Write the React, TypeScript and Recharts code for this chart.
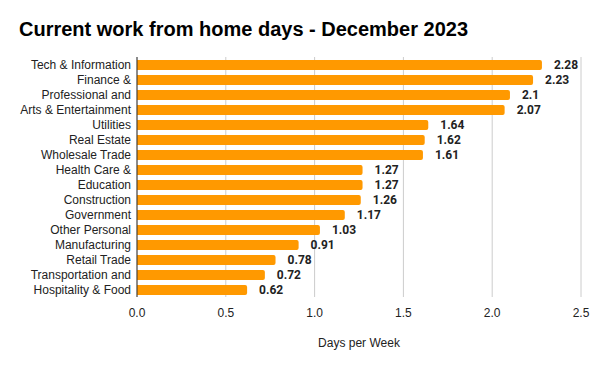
import { BarChart, Bar, XAxis, YAxis, CartesianGrid, LabelList } from "recharts";

const industries = [
  "Tech & Information",
  "Finance &",
  "Professional and",
  "Arts & Entertainment",
  "Utilities",
  "Real Estate",
  "Wholesale Trade",
  "Health Care &",
  "Education",
  "Construction",
  "Government",
  "Other Personal",
  "Manufacturing",
  "Retail Trade",
  "Transportation and",
  "Hospitality & Food",
];

const daysPerWeek = [
  2.28, 2.23, 2.1, 2.07, 1.64, 1.62, 1.61, 1.27, 1.27, 1.26, 1.17, 1.03, 0.91,
  0.78, 0.72, 0.62,
];

const xTicks = [0, 0.5, 1, 1.5, 2, 2.5];

const data = industries.map((name, i) => ({ name, days: daysPerWeek[i] }));

// plain text tick so long names are not wrapped
const CategoryTick = ({ x, y, payload }: any) => (
  <text
    x={x - 6}
    y={y}
    dy="0.35em"
    textAnchor="end"
    fill="#222"
    fontSize={12}
    fontFamily="'Liberation Sans', Arial, sans-serif"
  >
    {payload.value}
  </text>
);

export default function App() {
  return (
    <div
      style={{
        position: "absolute",
        top: 0,
        left: 0,
        width: 600,
        height: 371,
        background: "#fff",
        fontFamily: "'Liberation Sans', Arial, sans-serif",
      }}
    >
      <div
        style={{
          position: "absolute",
          left: 19,
          top: 17,
          fontSize: 20,
          lineHeight: "24px",
          fontWeight: "bold",
          color: "#000",
        }}
      >
        Current work from home days - December 2023
      </div>
      <BarChart
        width={600}
        height={371}
        data={data}
        layout="vertical"
        margin={{ top: 57, right: 19, bottom: 24, left: 0 }}
      >
        <CartesianGrid horizontal={false} stroke="#cccccc" />
        <XAxis
          type="number"
          domain={[0, 2.5]}
          ticks={xTicks}
          tickFormatter={(v: number) => v.toFixed(1)}
          axisLine={false}
          tickLine={false}
          tickSize={0}
          tickMargin={11}
          height={50}
          tick={{ fill: "#222", fontSize: 12, fontFamily: "'Liberation Sans', Arial" }}
          label={{
            value: "Days per Week",
            position: "insideBottom",
            offset: 0,
            fill: "#222",
            fontSize: 12,
            fontFamily: "'Liberation Sans', Arial",
          }}
        />
        <YAxis
          type="category"
          dataKey="name"
          width={137}
          interval={0}
          tickLine={false}
          tickSize={0}
          tickMargin={0}
          axisLine={{ stroke: "#333" }}
          tick={<CategoryTick />}
        />
        <Bar
          dataKey="days"
          fill="#ff9900"
          barSize={10}
          radius={[0, 2, 2, 0]}
          isAnimationActive={false}
        >
          <LabelList
            dataKey="days"
            position="right"
            offset={12}
            fill="#222"
            fontSize={12}
            fontWeight="bold"
            fontFamily="Roboto, sans-serif"
          />
        </Bar>
      </BarChart>
    </div>
  );
}
